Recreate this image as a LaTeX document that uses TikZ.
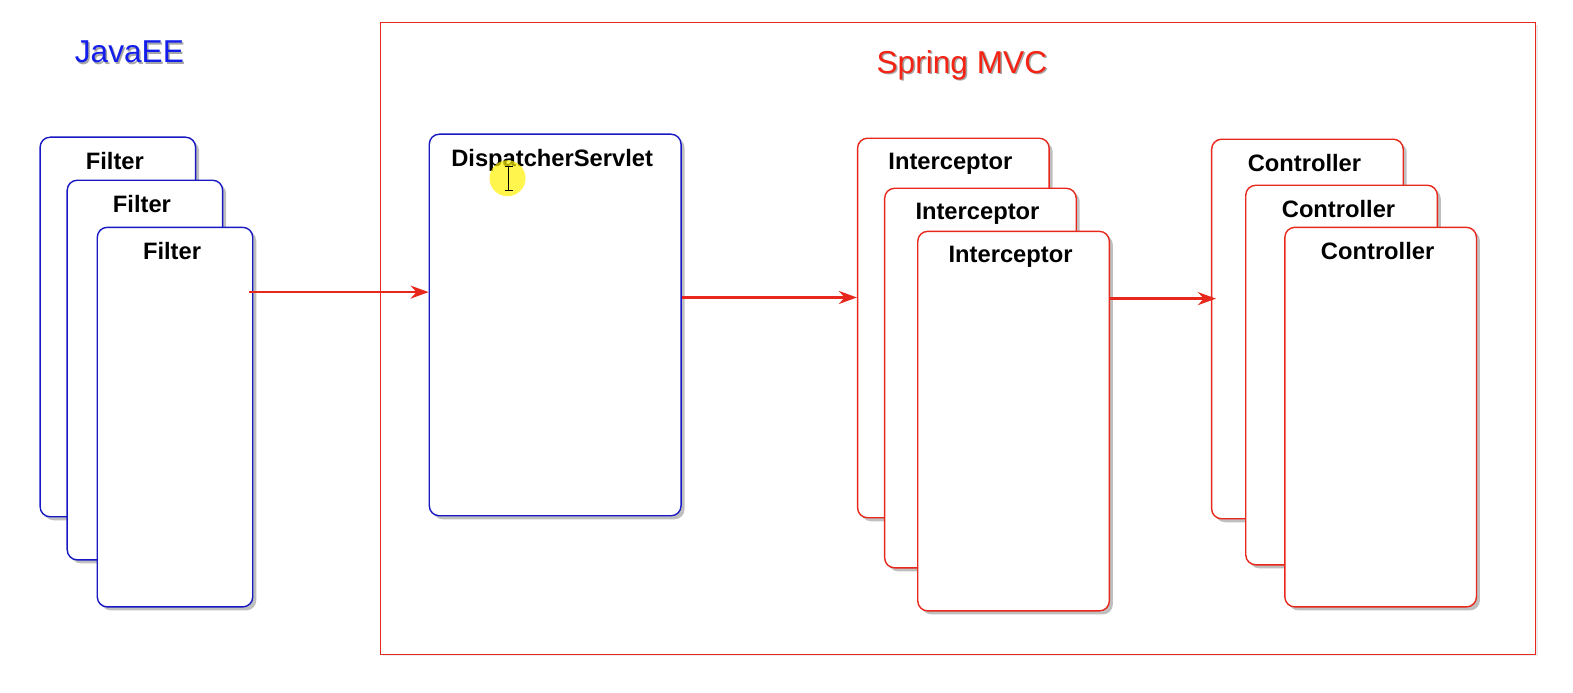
\documentclass[tikz,border=0pt]{standalone}
\usepackage{fontspec}
\setmainfont{Liberation Sans}
\usetikzlibrary{arrows.meta,shadows,fit}
\definecolor{javablue}{RGB}{25,25,195}
\definecolor{springred}{RGB}{232,40,28}
\definecolor{titleblue}{RGB}{20,30,235}
\definecolor{titlered}{RGB}{245,35,20}
\tikzset{
  card/.style={draw, fill=white, rounded corners=2mm, line width=0.8pt, inner sep=0pt,
    drop shadow={shadow xshift=0.7mm, shadow yshift=-0.7mm, opacity=0.5}},
  javacard/.style={card, draw=javablue},
  springcard/.style={card, draw=springred},
  cardtext/.style={font=\fontsize{13.5}{15}\selectfont\bfseries, anchor=north, xshift=-0.6mm, yshift=-1.9mm},
  flow/.style={draw=springred, line width=1.4pt, -{Stealth[length=3.6mm, width=2.6mm]}},
  title/.style={font=\fontsize{18}{21}\selectfont}
}
\begin{document}
\begin{tikzpicture}[x=0.2006mm, y=-0.2003mm]
\fill[white] (0mm,0mm) rectangle (314.6mm,-138.6mm);

% Spring MVC frame
\node[draw=springred, line width=0.5pt, inner sep=0pt, fit={(379,22) (1531,653)},
  drop shadow={shadow xshift=0.5mm, shadow yshift=-0.5mm, opacity=0.15}, fill=white] (mvc) {};

% titles
\node[title, text=black!35] at (130.5,53.5) {JavaEE};
\node[title, text=titleblue] (javaee) at (129,52) {JavaEE};
\node[title, text=black!35] at (960.5,66.5) {Spring MVC};
\node[title, text=titlered] (spring) at (959,65) {Spring MVC};

% filters
\node[javacard, fit={(40,137) (195,516)}, label={[cardtext]north:Filter}] (f1) {};
\node[javacard, fit={(67,180) (222,559)}, label={[cardtext]north:Filter}] (f2) {};
\node[javacard, fit={(97,227) (252,606)}, label={[cardtext]north:Filter}] (f3) {};

% dispatcher
\node[javacard, fit={(428,134) (679,515)}, label={[cardtext]north:DispatcherServlet}] (ds) {};

% interceptors
\node[springcard, fit={(855,138) (1046,517)}, label={[cardtext]north:Interceptor}] (i1) {};
\node[springcard, fit={(882,188) (1073,567)}, label={[cardtext]north:Interceptor}] (i2) {};
\node[springcard, fit={(915,231) (1106,610)}, label={[cardtext]north:Interceptor}] (i3) {};

% controllers
\node[springcard, fit={(1208,139) (1399,518)}, label={[cardtext]north:Controller}] (c1) {};
\node[springcard, fit={(1242,185) (1433,564)}, label={[cardtext]north:Controller}] (c2) {};
\node[springcard, fit={(1281,227) (1472,606)}, label={[cardtext]north:Controller}] (c3) {};

% cursor
\fill[yellow, opacity=0.7] (506,178) circle (3.6mm);
\draw[line width=0.6pt] (507,166) -- (507,190) (503,166) -- (511,166) (503,190) -- (511,190);

% arrows
\draw[flow] ([xshift=-0.8mm, yshift=25mm]f3.east) coordinate (a1) -- (a1 -| ds.west);
\draw[flow] ([yshift=5.5mm]ds.east) coordinate (a2) -- (a2 -| i1.west);
\draw[flow] ([yshift=24.5mm]i3.east) coordinate (a3) -- ([xshift=1mm]a3 -| c1.west);

\pgfresetboundingbox
\useasboundingbox (0mm,0mm) rectangle (314.6mm,-138.6mm);
\end{tikzpicture}
\end{document}
